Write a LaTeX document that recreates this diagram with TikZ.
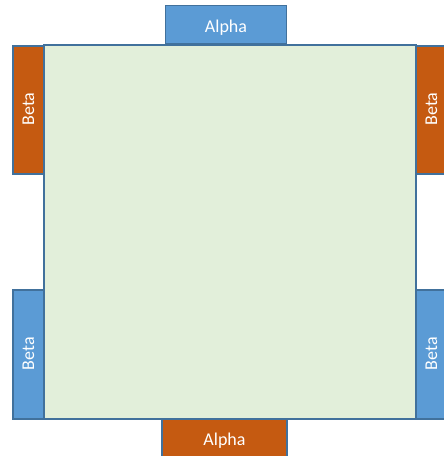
\documentclass[tikz,border=0pt]{standalone}
\usepackage{fontspec}
\setmainfont{Carlito}
\definecolor{bluebox}{HTML}{5B9BD5}
\definecolor{orangebox}{HTML}{C55A11}
\definecolor{greenfill}{HTML}{E2EFDA}
\definecolor{edge}{HTML}{41719C}
\tikzset{
  box/.style={draw=edge, line width=1.5pt, inner sep=0pt, outer sep=0pt},
  bluefill/.style={box, fill=bluebox},
  orangefill/.style={box, fill=orangebox},
  lbl/.style={text=white, inner sep=0pt, font=\fontsize{18}{21}\selectfont},
}
\begin{document}
\begin{tikzpicture}[x=1pt,y=-1pt]
\clip (0,0) rectangle (444,456);
\fill[white] (0,0) rectangle (444,456);
% side boxes
\node[bluefill, minimum width=121pt, minimum height=38pt] (alphaT) at (226,24.5) {};
\node[orangefill, minimum width=125pt, minimum height=38pt] (alphaB) at (224.5,438) {};
\node[orangefill, minimum width=31pt, minimum height=128pt] (betaLT) at (28.5,110) {};
\node[orangefill, minimum width=31pt, minimum height=128pt] (betaRT) at (431.5,110) {};
\node[bluefill, minimum width=31pt, minimum height=129pt] (betaLB) at (28.5,354.5) {};
\node[bluefill, minimum width=31pt, minimum height=129pt] (betaRB) at (431.5,354.5) {};
% labels
\node[lbl, yshift=-3pt] (tAT) at (alphaT.center) {Alpha};
\node[lbl, yshift=-3pt] (tAB) at (alphaB.center) {Alpha};
\node[lbl, rotate=90, xshift=1pt] (tLT) at (betaLT.center) {Beta};
\node[lbl, rotate=90, xshift=1pt] (tRT) at (betaRT.center) {Beta};
\node[lbl, rotate=90, xshift=1pt] (tLB) at (betaLB.center) {Beta};
\node[lbl, rotate=90, xshift=1pt] (tRB) at (betaRB.center) {Beta};
% main square
\node[draw=edge, line width=1.5pt, fill=greenfill, minimum width=372pt, minimum height=374pt, inner sep=0pt] (main) at (230,232) {};
\end{tikzpicture}
\end{document}
